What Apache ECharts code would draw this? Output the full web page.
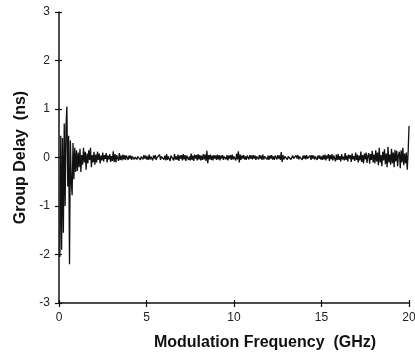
<!DOCTYPE html>
<html>
<head>
<meta charset="utf-8">
<script src="https://cdn.jsdelivr.net/npm/echarts@6/dist/echarts.min.js"></script>
<style>
html,body{margin:0;padding:0;background:#fff;}
#chart{width:415px;height:354px;}
</style>
</head>
<body>
<div id="chart"></div>
<script>
// Sample grid: first frequency and spacing (GHz)
var freqStart = 0.05;
var freqStep = 0.05;
// Group delay (ns), one value per sample
var delay = [
-2.05,0.45,-1.9,0.4,-1.55,0.7,-1.0,0.65,1.05,-0.6,0.45,-2.2,0.35,-0.5,-0.78,0.3,-0.45,0.2,-0.3,0.15,
-0.28,0.1,-0.2,0.18,-0.3,0.05,-0.15,0.2,-0.1,0.12,-0.25,0.08,-0.12,0.15,-0.05,0.2,-0.2,0.05,-0.1,0.12,
-0.15,0.06,-0.1,0.12,-0.05,0.08,-0.12,0.04,-0.06,0.1,-0.08,0.05,-0.03,0.09,-0.1,0.04,-0.04,0.07,-0.09,0.03,
-0.07,0.13,-0.09,0.07,-0.1,0.05,0.03,-0.07,0.09,-0.05,0.04,-0.06,0.06,-0.04,0.05,-0.05,0.04,0.02,-0.05,0.04,
-0.02,0.04,-0.05,0.02,0.04,-0.04,0.01,0.05,-0.04,0.02,-0.02,0.04,-0.05,0.02,0.0,-0.04,0.05,-0.02,0.04,-0.04,
0.02,-0.05,0.06,-0.04,0.02,0.05,-0.06,0.04,-0.02,0.05,-0.05,0.0,0.04,-0.04,0.06,-0.05,0.02,-0.02,0.05,-0.04,
0.04,-0.06,0.07,-0.05,0.02,0.06,-0.07,0.04,0.0,0.05,-0.06,0.07,-0.04,0.02,-0.05,0.06,-0.07,0.04,-0.02,0.05,
-0.06,0.07,-0.04,0.05,-0.07,0.04,0.06,-0.05,0.02,-0.06,0.08,-0.05,0.04,-0.07,0.06,-0.02,0.05,-0.06,0.07,-0.04,
0.05,-0.06,0.04,-0.05,0.07,-0.04,0.06,-0.07,0.14,-0.12,0.05,-0.04,0.06,-0.05,0.04,-0.06,0.05,-0.02,0.04,-0.05,
0.06,-0.04,0.05,-0.06,0.04,-0.02,0.05,-0.05,0.02,0.04,-0.04,0.05,-0.06,0.04,-0.02,0.05,-0.05,0.06,-0.04,0.02,
0.05,-0.06,0.08,-0.04,0.13,-0.1,0.06,-0.05,0.04,-0.02,0.05,-0.04,0.02,-0.05,0.04,0.0,-0.04,0.05,-0.02,0.04,
-0.04,0.05,-0.02,0.04,-0.05,0.02,0.04,-0.04,0.05,-0.02,0.04,-0.05,0.06,-0.04,0.02,-0.02,0.05,-0.04,0.04,-0.05,
0.04,-0.02,0.05,-0.04,0.02,-0.05,0.04,0.02,-0.04,0.05,-0.02,0.04,-0.05,0.11,-0.09,0.05,-0.04,0.02,-0.02,0.04,
-0.04,0.02,-0.02,0.04,-0.04,0.0,0.04,-0.02,0.02,-0.04,0.04,-0.02,0.05,-0.04,0.02,-0.02,0.04,-0.05,0.04,-0.02,
0.04,-0.04,0.05,-0.02,0.02,-0.04,0.04,-0.05,0.05,-0.02,0.04,-0.04,0.02,0.05,-0.05,0.04,-0.02,0.04,-0.04,0.02,
-0.05,0.05,-0.04,0.06,-0.06,0.04,-0.02,0.07,-0.07,0.05,-0.04,0.07,-0.06,0.04,0.06,-0.08,0.06,-0.05,0.07,-0.05,
0.03,-0.08,0.07,-0.04,0.02,-0.06,0.09,-0.05,0.04,-0.08,0.06,-0.02,0.05,-0.09,0.08,-0.04,0.03,-0.07,0.1,-0.05,
0.06,-0.1,0.04,-0.06,0.12,-0.09,0.05,-0.12,0.08,-0.04,0.1,-0.11,0.03,0.09,-0.13,0.07,-0.05,0.14,-0.1,0.06,
-0.12,0.15,-0.08,0.1,-0.16,0.2,-0.1,0.05,-0.18,0.12,-0.06,0.17,-0.14,0.08,-0.2,0.22,-0.1,0.06,-0.15,0.18,
-0.12,0.1,-0.2,0.16,-0.08,0.14,-0.18,0.06,0.12,-0.22,0.15,-0.1,0.2,-0.16,0.08,-0.12,0.1,-0.25,0.1,0.65
];
// Axis ticks
var xTicks = [0, 5, 10, 15, 20];
var yTicks = [-3, -2, -1, 0, 1, 2, 3];

var points = delay.map(function (v, i) {
  return [+(freqStart + i * freqStep).toFixed(2), v];
});

var font = 'Liberation Sans, Arial, sans-serif';
var chart = echarts.init(document.getElementById('chart'), null, {renderer: 'canvas'});
chart.setOption({
  animation: false,
  backgroundColor: '#ffffff',
  grid: {left: 59, right: 6, top: 12, bottom: 51, containLabel: false, outerBoundsMode: 'none'},
  xAxis: [{
    type: 'value', min: xTicks[0], max: xTicks[xTicks.length - 1], interval: 5,
    position: 'bottom',
    axisLine: {show: true, onZero: false, lineStyle: {color: '#111', width: 1.5}},
    axisTick: {show: true, inside: false, length: 4, lineStyle: {color: '#111', width: 1.2}},
    axisLabel: {show: true, margin: 9, color: '#222', fontFamily: font, fontSize: 12},
    splitLine: {show: false},
    name: 'Modulation Frequency  (GHz)',
    nameLocation: 'middle', nameGap: 32,
    nameTextStyle: {fontFamily: font, fontWeight: 'bold', fontSize: 16, color: '#111', padding: [0, 0, 0, 62]}
  }, {
    type: 'value', min: xTicks[0], max: xTicks[xTicks.length - 1], interval: 5,
    position: 'bottom',
    axisLine: {show: false, onZero: false},
    axisTick: {show: true, inside: true, length: 3, lineStyle: {color: '#111', width: 1.2}},
    axisLabel: {show: false},
    splitLine: {show: false}
  }],
  yAxis: [{
    type: 'value', min: yTicks[0], max: yTicks[yTicks.length - 1], interval: 1,
    position: 'left',
    axisLine: {show: true, onZero: false, lineStyle: {color: '#111', width: 1.5}},
    axisTick: {show: true, inside: false, length: 4, lineStyle: {color: '#111', width: 1.2}},
    axisLabel: {show: true, margin: 9, color: '#222', fontFamily: font, fontSize: 12},
    splitLine: {show: false},
    name: 'Group Delay  (ns)',
    nameLocation: 'middle', nameGap: 30, nameRotate: 90,
    nameTextStyle: {fontFamily: font, fontWeight: 'bold', fontSize: 16, color: '#111'}
  }, {
    type: 'value', min: yTicks[0], max: yTicks[yTicks.length - 1], interval: 1,
    position: 'left',
    axisLine: {show: false, onZero: false},
    axisTick: {show: true, inside: true, length: 3, lineStyle: {color: '#111', width: 1.2}},
    axisLabel: {show: false},
    splitLine: {show: false}
  }],
  series: [{
    type: 'line',
    xAxisIndex: 0, yAxisIndex: 0,
    data: points,
    showSymbol: false,
    symbol: 'none',
    lineStyle: {color: '#111', width: 1.3},
    clip: false
  }]
});
</script>
</body>
</html>
